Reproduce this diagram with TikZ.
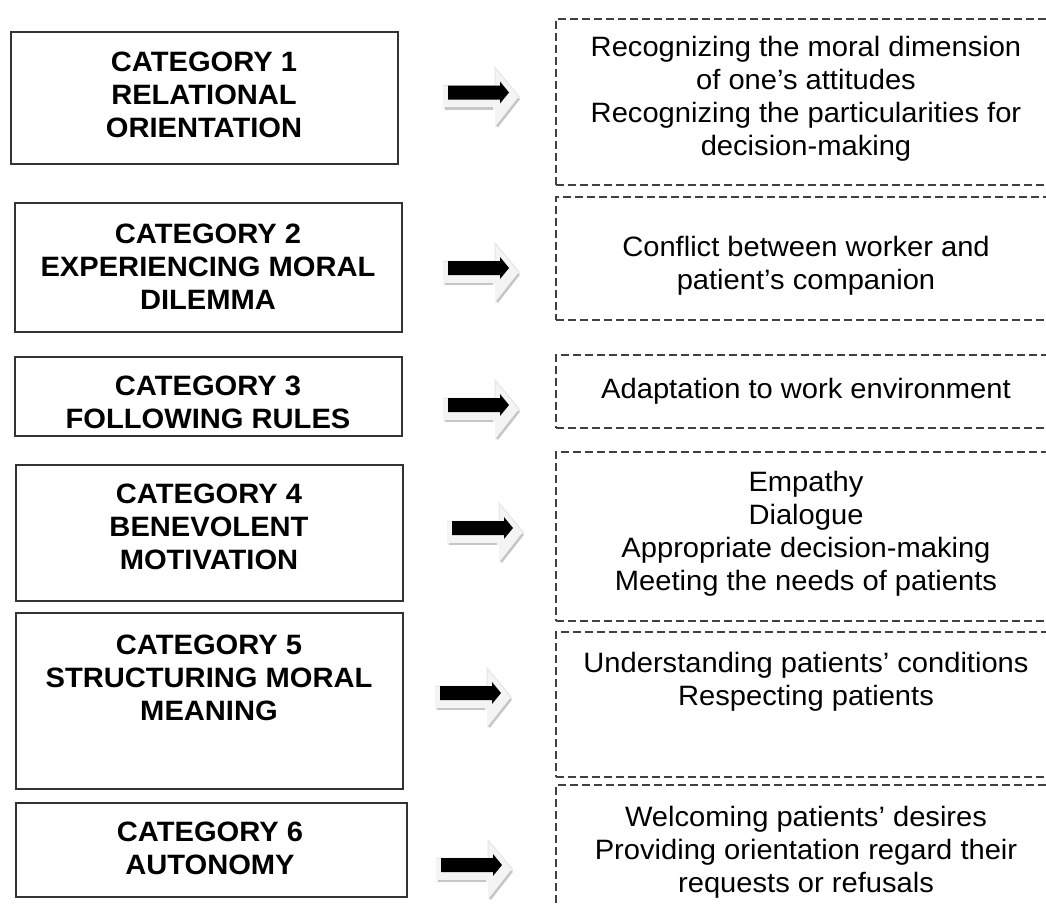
\documentclass[tikz,border=0pt]{standalone}
\usepackage{fontspec}
\setmainfont{Liberation Sans}
\newfontfamily\catfont{Liberation Sans}[FakeStretch=1.04]
\newfontfamily\itemfont{Liberation Sans}[FakeStretch=1.04]
\begin{document}
\begin{tikzpicture}[x=1pt,y=-1pt,
  catbox/.style={draw=black!80, line width=2pt, rectangle, inner sep=0pt},
  itembox/.style={draw=black!75, line width=1.4pt, dash pattern=on 8pt off 4pt, rectangle, inner sep=0pt},
  cattext/.style={font=\catfont\bfseries\fontsize{28}{33}\selectfont, align=center, inner sep=0pt},
  itemtext/.style={font=\itemfont\fontsize{28}{33}\selectfont, align=center, inner sep=0pt},
  blockarrow/.pic={
    \fill[gray!9] (-5,-7) -- (47,-7) -- (47,-25) -- (72,5) -- (47,35) -- (47,17) -- (-5,17) -- cycle;
    \draw[gray!20, line width=1pt] (-5,-7) -- (47,-7) -- (47,-25) -- (72,5);
    \draw[gray!45, line width=2.5pt] (-3,16) -- (45,16);
    \draw[gray!45, line width=2.5pt] (71,6) -- (49,34);
    \fill[black] (0,-7) -- (52,-7) -- (52,-11) -- (61,0) -- (52,11) -- (52,7) -- (0,7) -- cycle;
  }]
\useasboundingbox (0,0) rectangle (1046,903);
\clip (0,0) rectangle (1046,903);

% left category boxes
\node[catbox, minimum width=387pt, minimum height=132pt] (c1) at (204.5,98) {};
\node[catbox, minimum width=387pt, minimum height=129pt] (c2) at (208.5,267.5) {};
\node[catbox, minimum width=387pt, minimum height=79pt]  (c3) at (208.5,396.5) {};
\node[catbox, minimum width=387pt, minimum height=136pt] (c4) at (209.5,533) {};
\node[catbox, minimum width=387pt, minimum height=176pt] (c5) at (209.5,701) {};
\node[catbox, minimum width=391pt, minimum height=94pt]  (c6) at (211.5,850) {};

\node[cattext] (ct1) at (204,95)    {CATEGORY 1\\RELATIONAL\\ORIENTATION};
\node[cattext] (ct2) at (208,266.5) {CATEGORY 2\\EXPERIENCING MORAL\\DILEMMA};
\node[cattext] (ct3) at (208,402)   {CATEGORY 3\\FOLLOWING RULES};
\node[cattext] (ct4) at (209,527)   {CATEGORY 4\\BENEVOLENT\\MOTIVATION};
\node[cattext] (ct5) at (209,678)   {CATEGORY 5\\STRUCTURING MORAL\\MEANING};
\node[cattext] (ct6) at (210,848)   {CATEGORY 6\\AUTONOMY};

% right dashed boxes
\node[itembox, minimum width=504pt, minimum height=166pt] (d1) at (808,102) {};
\node[itembox, minimum width=504pt, minimum height=123pt] (d2) at (808,258.5) {};
\node[itembox, minimum width=504pt, minimum height=73pt]  (d3) at (808,391.5) {};
\node[itembox, minimum width=504pt, minimum height=169pt] (d4) at (808,536.5) {};
\node[itembox, minimum width=504pt, minimum height=145pt] (d5) at (808,704.5) {};
\node[itembox, minimum width=504pt, minimum height=130pt] (d6) at (808,850) {};

\node[itemtext] (dt1) at (806,99)  {Recognizing the moral dimension\\of one’s attitudes\\Recognizing the particularities for\\decision-making};
\node[itemtext] (dt2) at (806,265.5) {Conflict between worker and\\patient’s companion};
\node[itemtext] (dt3) at (806,391) {Adaptation to work environment};
\node[itemtext] (dt4) at (806,534) {Empathy\\Dialogue\\Appropriate decision-making\\Meeting the needs of patients};
\node[itemtext] (dt5) at (806,682) {Understanding patients’ conditions\\Respecting patients};
\node[itemtext] (dt6) at (806,852) {Welcoming patients’ desires\\Providing orientation regard their\\requests or refusals};

% block arrows
\pic at (448,92.5) {blockarrow};
\pic at (448,268) {blockarrow};
\pic at (448,405) {blockarrow};
\pic at (452,528) {blockarrow};
\pic at (440,693) {blockarrow};
\pic at (441,865) {blockarrow};
\end{tikzpicture}
\end{document}
